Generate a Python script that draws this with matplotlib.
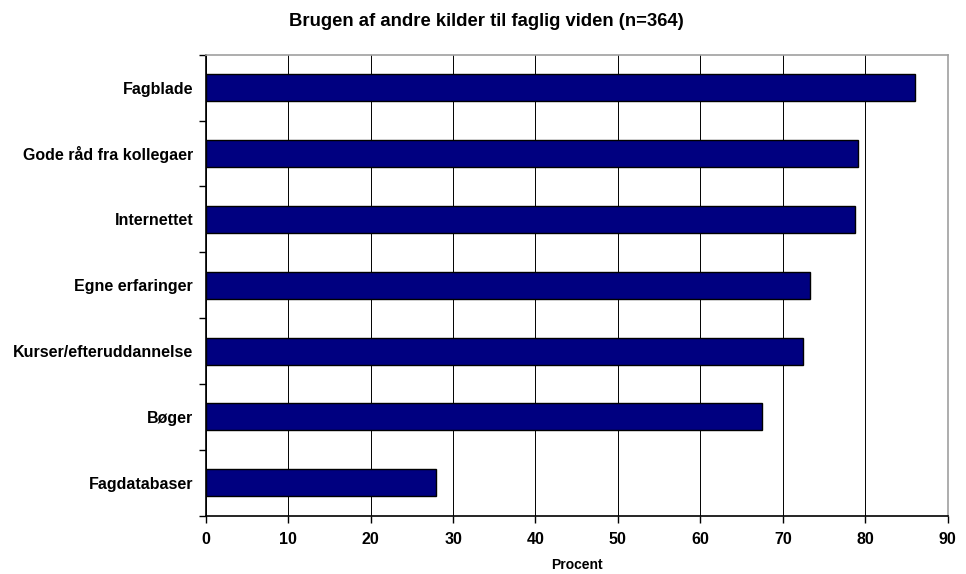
import matplotlib.pyplot as plt
import numpy as np

plt.rcParams['font.family'] = ['Liberation Sans', 'DejaVu Sans']
plt.rcParams['font.weight'] = 'bold'

categories = ["Fagblade", "Gode råd fra kollegaer", "Internettet", "Egne erfaringer",
              "Kurser/efteruddannelse", "Bøger", "Fagdatabaser"]
values = [86.0, 79.1, 78.8, 73.3, 72.5, 67.5, 27.9]
xticks = [0, 10, 20, 30, 40, 50, 60, 70, 80, 90]

fig = plt.figure(figsize=(9.66, 5.74), dpi=100)
ax = fig.add_axes([205.7 / 966, 1 - 515.7 / 574, 742 / 966, 461 / 574])

y = np.arange(len(categories))
ax.barh(y, values, height=0.41, color="#000080", edgecolor="black", linewidth=1, zorder=3)

ax.set_xlim(0, 90)
ax.set_ylim(len(categories) - 0.5, -0.5)
ax.set_xticks(xticks)
ax.set_xticklabels([str(t) for t in xticks], fontsize=11.5, fontweight="bold")
ax.set_yticks(y)
ax.set_yticklabels(categories, fontsize=11.5, fontweight="bold")
ax.tick_params(axis="y", length=0, pad=9)
ax.set_yticks(np.arange(len(categories) + 1) - 0.5, minor=True)
ax.tick_params(axis="y", which="minor", length=5, direction="out", width=1)
ax.tick_params(axis="x", length=5, direction="out", width=1, pad=7)

ax.grid(axis="x", color="black", linewidth=0.7, zorder=0)
ax.spines["left"].set_color("black")
ax.spines["bottom"].set_color("black")
ax.spines["top"].set_color("#a0a0a0")
ax.spines["right"].set_color("#a0a0a0")
for s in ax.spines.values():
    s.set_linewidth(1.2)

ax.set_xlabel("Procent", fontsize=10, fontweight="bold", labelpad=8)
fig.text(0.503, 1 - 21 / 574, "Brugen af andre kilder til faglig viden (n=364)",
         ha="center", va="center", fontsize=13.3, fontweight="bold")

fig.savefig("out.png", dpi=100)
